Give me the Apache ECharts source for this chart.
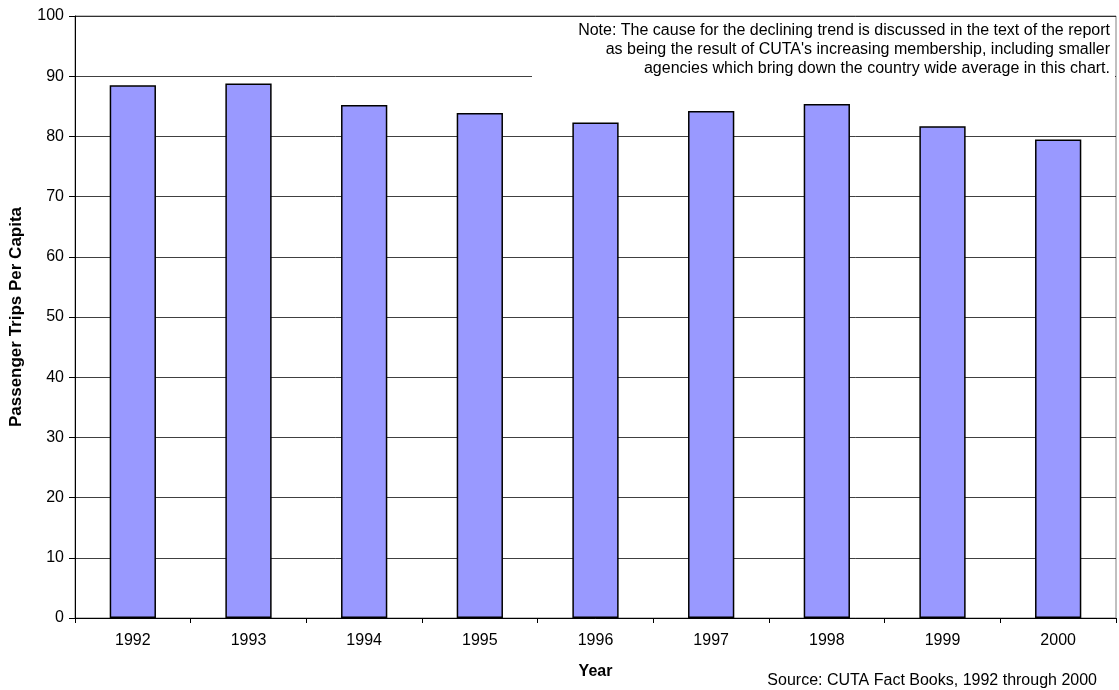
<!DOCTYPE html>
<html>
<head>
<meta charset="utf-8">
<script src="https://cdn.jsdelivr.net/npm/echarts@6/dist/echarts.min.js"></script>
<style>
  html, body { margin: 0; padding: 0; background: #fff; }
  #chart { width: 1119px; height: 690px; }
</style>
</head>
<body>
<div id="chart"></div>
<script>
// Passenger trips per capita, CUTA members, 1992–2000
const years = ['1992', '1993', '1994', '1995', '1996', '1997', '1998', '1999', '2000'];
const tripsPerCapita = [88.5, 88.8, 85.2, 83.9, 82.3, 84.2, 85.4, 81.7, 79.5];
const yTicks = { min: 0, max: 100, interval: 10 };
const noteLines = [
  'Note: The cause for the declining trend is discussed in the text of the report',
  "as being the result of CUTA's increasing membership, including smaller",
  'agencies which bring down the country wide average in this chart.'
];
const sourceText = 'Source: CUTA Fact Books, 1992 through 2000';

const font = 'Arial, "Liberation Sans", sans-serif';
const chart = echarts.init(document.getElementById('chart'));

// note lines, each right-aligned against the plot's right edge
const noteGraphics = noteLines.map((line, i) => ({
  type: 'text',
  z: 51,
  x: 1110,
  y: 31 + i * 19,
  style: {
    text: line,
    align: 'right',
    verticalAlign: 'middle',
    fontFamily: font,
    fontSize: 16,
    fill: '#000'
  }
}));

chart.setOption({
  animation: false,
  backgroundColor: '#ffffff',
  grid: {
    left: 75, right: 3, top: 16, bottom: 72,
    outerBoundsMode: 'none',
    containLabel: false,
    show: true, borderColor: '#808080', borderWidth: 1, backgroundColor: 'transparent'
  },
  xAxis: {
    type: 'category',
    data: years,
    boundaryGap: true,
    name: 'Year',
    nameLocation: 'middle',
    nameGap: 46,
    nameTextStyle: { fontFamily: font, fontSize: 16, fontWeight: 'bold', color: '#000' },
    axisLine: { lineStyle: { color: '#000', width: 1 } },
    axisTick: { show: true, alignWithLabel: false, length: 5, lineStyle: { color: '#000' } },
    axisLabel: { fontFamily: font, fontSize: 16, color: '#000', margin: 15 },
    splitLine: { show: false }
  },
  yAxis: {
    type: 'value',
    min: yTicks.min,
    max: yTicks.max,
    interval: yTicks.interval,
    name: 'Passenger Trips Per Capita',
    nameLocation: 'middle',
    nameGap: 50,
    nameRotate: 90,
    nameTextStyle: { fontFamily: font, fontSize: 17, fontWeight: 'bold', color: '#000' },
    axisLine: { show: true, lineStyle: { color: '#000', width: 1 } },
    axisTick: { show: true, length: 6, lineStyle: { color: '#000' } },
    axisLabel: { fontFamily: font, fontSize: 16, color: '#000', margin: 11 },
    splitLine: { show: true, lineStyle: { color: '#000', width: 1, opacity: 0.75 } }
  },
  series: [{
    type: 'bar',
    data: tripsPerCapita,
    barWidth: '40%',
    itemStyle: { color: '#9999ff', borderColor: '#000', borderWidth: 1.5 }
  }],
  graphic: [
    {
      type: 'rect',
      z: 50,
      shape: { x: 532, y: 17, width: 583, height: 80 },
      style: { fill: '#ffffff', stroke: null }
    },
    ...noteGraphics,
    {
      type: 'text',
      z: 51,
      x: 1097,
      y: 681,
      style: {
        text: sourceText,
        align: 'right',
        verticalAlign: 'middle',
        fontFamily: font,
        fontSize: 16,
        fill: '#000'
      }
    }
  ]
});
</script>
</body>
</html>
